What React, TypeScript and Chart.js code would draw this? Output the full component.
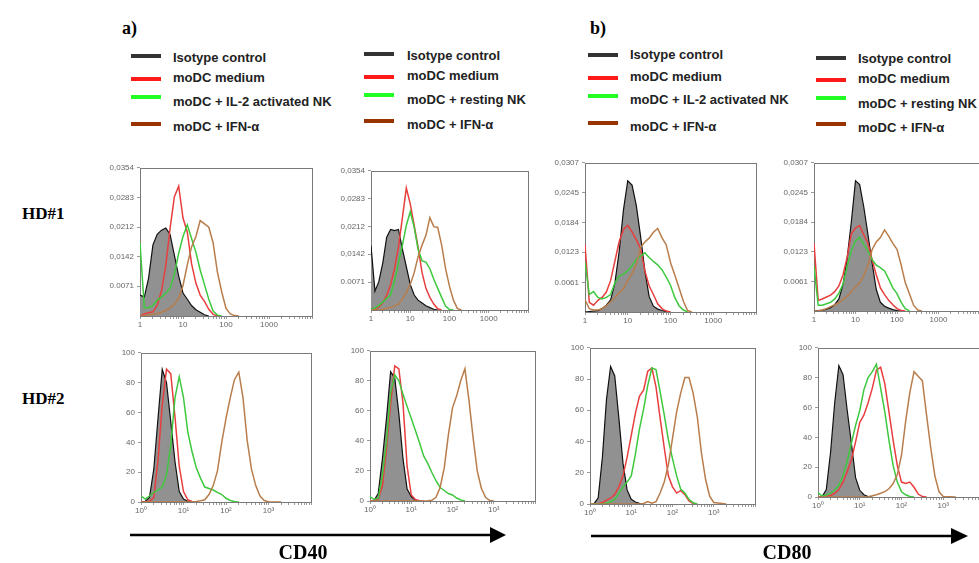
import React, { useEffect, useRef } from "react";
import { Chart, registerables } from "chart.js";
Chart.register(...registerables);

// Shared fluorescence channel grid (log spaced, typed)
const XS = [1, 1.26, 1.58, 2, 2.51, 3.16, 3.98, 5.01, 6.31, 7.94, 10, 12.6, 15.8, 20, 25.1, 31.6, 39.8, 50.1, 63.1, 79.4, 100, 126, 158, 200, 251, 316, 398, 501, 631, 794, 1000, 2000, 5000, 10000];

const X_TICKS = [1, 2, 3, 4, 5, 6, 7, 8, 9, 10, 20, 30, 40, 50, 60, 70, 80, 90, 100, 200, 300, 400, 500, 600, 700, 800, 900, 1000, 2000, 3000, 4000, 5000, 6000, 7000, 8000, 9000, 10000];
const X_MAJOR = [1, 10, 100, 1000];
const X_LABELS_HD1 = ["1", "10", "100", "1000"];
const X_LABELS_HD2 = ["10\u2070", "10\u00b9", "10\u00b2", "10\u00b3"];

const Y_TICKS_CD40 = [0.0071, 0.0142, 0.0212, 0.0283, 0.0354];
const Y_LABELS_CD40 = ["0.0071", "0,0142", "0,0212", "0,0283", "0,0354"];
const Y_TICKS_CD80 = [0.0061, 0.0123, 0.0184, 0.0245, 0.0307];
const Y_LABELS_CD80 = ["0.0061", "0,0123", "0,0184", "0,0245", "0,0307"];
const Y_TICKS_HD2 = [0, 20, 40, 60, 80, 100];
const Y_LABELS_HD2 = ["0", "20", "40", "60", "80", "100"];

const SERIES_IL2 = ["Isotype control", "moDC medium", "moDC + IL-2 activated NK", "moDC + IFN-\u03b1"];
const SERIES_REST = ["Isotype control", "moDC medium", "moDC + resting NK", "moDC + IFN-\u03b1"];

// a) CD40, HD#1, IL-2 activated NK
const A1L_ISO = [0.005, 0.0045, 0.009, 0.017, 0.0195, 0.0205, 0.021, 0.0195, 0.0145, 0.0095, 0.0055, 0.004, 0.0025, 0.0015, 0.0009, 0.0003, 0];
const A1L_MED = [0, 0.0005, 0.0008, 0.001, 0.0025, 0.006, 0.012, 0.021, 0.0285, 0.031, 0.0234, 0.02, 0.0125, 0.0078, 0.005, 0.0035, 0.0016, 0.0004, 0];
const A1L_NK = [0.0175, 0.002, 0.002, 0.0025, 0.0038, 0.0045, 0.0055, 0.0066, 0.01, 0.015, 0.019, 0.0218, 0.0185, 0.0152, 0.011, 0.0075, 0.004, 0.0012, 0.0002, 0];
const A1L_IFN = [0, 0, 0.0002, 0.0004, 0.0006, 0.0009, 0.0013, 0.002, 0.0028, 0.0042, 0.0073, 0.0122, 0.0165, 0.019, 0.0228, 0.022, 0.0212, 0.0175, 0.0105, 0.0058, 0.0018, 0.0005, 0.0001, 0];
// a) CD40, HD#1, resting NK
const A1R_ISO = [0.0164, 0.0048, 0.0072, 0.012, 0.0185, 0.0205, 0.0202, 0.0205, 0.0155, 0.011, 0.0065, 0.0038, 0.0025, 0.0018, 0.0011, 0.0006, 0.0002, 0];
const A1R_MED = [0, 0.0002, 0.0008, 0.0018, 0.0037, 0.0065, 0.0105, 0.016, 0.0235, 0.031, 0.027, 0.0215, 0.016, 0.0095, 0.0055, 0.0032, 0.0015, 0.0003, 0];
const A1R_NK = [0.0002, 0.0005, 0.0012, 0.002, 0.003, 0.0038, 0.0075, 0.012, 0.0165, 0.0215, 0.025, 0.021, 0.0155, 0.0125, 0.0122, 0.0105, 0.0078, 0.0055, 0.0032, 0.001, 0.0001, 0];
const A1R_IFN = [0, 0, 0, 0.0002, 0.0004, 0.0007, 0.001, 0.0015, 0.0027, 0.0045, 0.0065, 0.0095, 0.0135, 0.0165, 0.019, 0.0235, 0.0212, 0.021, 0.0165, 0.0105, 0.006, 0.0025, 0.0004, 0];
// b) CD80, HD#1, IL-2 activated NK
const B1L_ISO = [0, 0.0001, 0.0002, 0.0003, 0.0007, 0.0014, 0.0025, 0.006, 0.0125, 0.021, 0.027, 0.0261, 0.022, 0.0155, 0.0085, 0.0032, 0.0012, 0.0006, 0.0003, 0.0001, 0];
const B1L_MED = [0.0139, 0.002, 0.0014, 0.0024, 0.003, 0.0041, 0.0065, 0.0105, 0.0145, 0.017, 0.0178, 0.0165, 0.0149, 0.013, 0.0085, 0.0054, 0.0036, 0.0017, 0.0007, 0.0002, 0];
const B1L_NK = [0.0102, 0.0036, 0.0042, 0.003, 0.0027, 0.003, 0.0036, 0.006, 0.0074, 0.0078, 0.0085, 0.0095, 0.0108, 0.0115, 0.0122, 0.0112, 0.0104, 0.0097, 0.0087, 0.0072, 0.0055, 0.003, 0.0013, 0.0004, 0];
const B1L_IFN = [0.0025, 0.0007, 0.0004, 0.0004, 0.0006, 0.0013, 0.0021, 0.003, 0.004, 0.0048, 0.0065, 0.0079, 0.0098, 0.0133, 0.0144, 0.0152, 0.0164, 0.0172, 0.0153, 0.0138, 0.0102, 0.0076, 0.005, 0.0022, 0.0003, 0];
// b) CD80, HD#1, resting NK
const B1R_ISO = [0, 0.0001, 0.0002, 0.0004, 0.0007, 0.0013, 0.0025, 0.0055, 0.011, 0.0185, 0.027, 0.0262, 0.0216, 0.0158, 0.01, 0.0045, 0.0018, 0.001, 0.0006, 0.0003, 0.0001, 0];
const B1R_MED = [0.0141, 0.0022, 0.0025, 0.0029, 0.0033, 0.004, 0.0052, 0.0075, 0.0112, 0.016, 0.0172, 0.0177, 0.0158, 0.014, 0.0107, 0.0075, 0.0048, 0.0034, 0.0022, 0.0013, 0.0005, 0.0001, 0];
const B1R_NK = [0.0093, 0.0012, 0.0012, 0.0015, 0.0018, 0.0025, 0.0037, 0.0056, 0.0093, 0.0125, 0.0145, 0.0153, 0.0138, 0.0125, 0.0107, 0.0095, 0.009, 0.0083, 0.0066, 0.0048, 0.0036, 0.0018, 0.0005, 0];
const B1R_IFN = [0, 0, 0.0002, 0.0005, 0.0009, 0.0013, 0.0017, 0.0024, 0.0031, 0.004, 0.005, 0.0058, 0.0073, 0.0095, 0.0127, 0.0143, 0.0152, 0.0168, 0.0155, 0.014, 0.0128, 0.0095, 0.0059, 0.0035, 0.0012, 0.0002, 0];
// a) CD40, HD#2
const A2L_ISO = [0, 0.5, 3, 22, 56, 89, 80, 54, 27, 7, 2, 0.5, 0];
const A2L_MED = [0, 0, 0.5, 3, 28, 65, 89, 86, 57, 24, 7, 1.5, 0.3, 0];
const A2L_NK = [4, 2, 4, 6.5, 8, 10, 18, 38, 70, 84, 70, 47, 34, 23, 16, 10, 9, 8, 6.5, 5, 2.5, 1, 0.3, 0];
const A2L_IFN = [0, 0, 0, 0, 0, 0, 0, 0, 0, 0, 0, 0, 0, 0.3, 0.8, 1.5, 5, 11, 21, 40, 56, 70, 82, 87, 70, 41, 22, 11, 4, 1, 0.2, 0];
const A2R_ISO = [0, 0.5, 5, 28, 55, 86, 82, 58, 28, 8, 3, 0.6, 0];
const A2R_MED = [0, 0.2, 1.5, 10, 35, 65, 90, 88, 65, 23, 4, 1, 0.2, 0];
const A2R_NK = [3, 1, 2, 17, 40, 72, 84, 80, 71, 63, 55, 47, 39, 30, 25, 19, 13.5, 9, 7, 5, 4, 2, 0.7, 0];
const A2R_IFN = [0, 0, 0, 0, 0, 0, 0, 0, 0, 0, 0, 0, 0, 0, 0.2, 0.5, 2.5, 9, 22, 44, 62, 70, 80, 88, 67, 42, 20, 8.5, 2.5, 0.4, 0];
// b) CD80, HD#2
const B2L_ISO = [0, 0.2, 4, 30, 67, 88, 82, 55, 26, 9, 3, 1.3, 0.5, 0];
const B2L_MED = [0, 0, 0.2, 1, 2.5, 3.8, 6, 11, 18, 30, 44, 58, 69, 73, 85, 87, 75, 55, 36, 18, 11, 7, 8.5, 6, 2, 0.3, 0];
const B2L_NK = [0, 0, 0, 0.2, 0.6, 1.5, 3, 7, 11, 14, 18, 32, 48, 61, 76, 87, 86, 72, 57, 41, 29, 18, 9.5, 7, 3, 0.8, 0];
const B2L_IFN = [0, 0, 0, 0, 0, 0, 0, 0, 0, 0, 0, 0, 0, 0.3, 1.5, 0.5, 1.5, 7, 14, 25, 42, 59, 71, 81, 81, 71, 56, 33, 16, 5, 1, 0];
const B2R_ISO = [0, 0.3, 5, 30, 63, 88, 82, 58, 36, 13, 4.5, 1.5, 0.3, 0];
const B2R_MED = [0, 0, 0.3, 1, 2.5, 5, 10, 17, 25, 37, 50, 55, 63, 73, 85, 87, 76, 57, 38, 21, 10, 9, 10, 6.5, 2, 0.3, 0];
const B2R_NK = [3, 0.5, 1.5, 2.4, 4.5, 8, 14, 24, 36, 48, 58, 72, 80, 84, 89, 73, 57, 38, 21, 10, 3.5, 1.5, 0.3, 0];
const B2R_IFN = [0, 0, 0, 0, 0, 0, 0, 0, 0, 0, 0, 0, 0.2, 0.8, 1.5, 2.5, 3.6, 5.5, 9, 15, 28, 51, 70, 84, 81, 78, 55, 33, 14, 3.5, 0.3, 0];

// Styles
const LINE_COLORS = ["#111111", "rgb(232,62,62)", "rgb(62,200,62)", "rgb(185,125,75)"];
const ISO_FILL = "rgb(145,145,145)";
const SWATCH_COLORS = ["#333333", "#ff1a1a", "#22ff22", "#993300"];

const YW = 34;
const XH = 18;
const PT = 6;
const PR = 4;

type PanelCfg = {
  box: [number, number, number, number];
  yMax: number;
  yTicks: number[];
  yLabels: string[];
  xLabels: string[];
  names: string[];
  series: number[][];
};

const PANELS: PanelCfg[] = [
  { box: [140, 166, 312, 316], yMax: 0.0354, yTicks: Y_TICKS_CD40, yLabels: Y_LABELS_CD40, xLabels: X_LABELS_HD1, names: SERIES_IL2, series: [A1L_ISO, A1L_MED, A1L_NK, A1L_IFN] },
  { box: [371, 169, 528, 310], yMax: 0.0354, yTicks: Y_TICKS_CD40, yLabels: Y_LABELS_CD40, xLabels: X_LABELS_HD1, names: SERIES_REST, series: [A1R_ISO, A1R_MED, A1R_NK, A1R_IFN] },
  { box: [585, 161, 756, 312], yMax: 0.0307, yTicks: Y_TICKS_CD80, yLabels: Y_LABELS_CD80, xLabels: X_LABELS_HD1, names: SERIES_IL2, series: [B1L_ISO, B1L_MED, B1L_NK, B1L_IFN] },
  { box: [814, 161, 980, 311], yMax: 0.0307, yTicks: Y_TICKS_CD80, yLabels: Y_LABELS_CD80, xLabels: X_LABELS_HD1, names: SERIES_REST, series: [B1R_ISO, B1R_MED, B1R_NK, B1R_IFN] },
  { box: [141, 351, 311, 502], yMax: 100, yTicks: Y_TICKS_HD2, yLabels: Y_LABELS_HD2, xLabels: X_LABELS_HD2, names: SERIES_IL2, series: [A2L_ISO, A2L_MED, A2L_NK, A2L_IFN] },
  { box: [370, 349, 535, 501], yMax: 100, yTicks: Y_TICKS_HD2, yLabels: Y_LABELS_HD2, xLabels: X_LABELS_HD2, names: SERIES_REST, series: [A2R_ISO, A2R_MED, A2R_NK, A2R_IFN] },
  { box: [590, 346, 755, 504], yMax: 100, yTicks: Y_TICKS_HD2, yLabels: Y_LABELS_HD2, xLabels: X_LABELS_HD2, names: SERIES_IL2, series: [B2L_ISO, B2L_MED, B2L_NK, B2L_IFN] },
  { box: [818, 346, 985, 497], yMax: 100, yTicks: Y_TICKS_HD2, yLabels: Y_LABELS_HD2, xLabels: X_LABELS_HD2, names: SERIES_REST, series: [B2R_ISO, B2R_MED, B2R_NK, B2R_IFN] },
];

const framePlugin = {
  id: "frame",
  beforeDatasetsDraw(chart: any) {
    const { ctx, chartArea: a } = chart;
    ctx.save();
    ctx.strokeStyle = "#7a7a7a";
    ctx.lineWidth = 1;
    ctx.strokeRect(Math.round(a.left) + 0.5, Math.round(a.top) + 0.5, Math.round(a.right - a.left), Math.round(a.bottom - a.top));
    ctx.restore();
  },
};

function Panel({ cfg }: { cfg: PanelCfg }) {
  const ref = useRef<HTMLCanvasElement>(null);
  const [l, t, r, b] = cfg.box;
  const W = r - l + YW + PR;
  const H = b - t + PT + XH;
  useEffect(() => {
    const chart = new Chart(ref.current as HTMLCanvasElement, {
      type: "line",
      data: {
        datasets: cfg.series.map((ys, k) => ({
          label: cfg.names[k],
          data: ys.map((y, i) => ({ x: XS[i], y })),
          borderColor: LINE_COLORS[k],
          backgroundColor: k === 0 ? ISO_FILL : "rgba(0,0,0,0)",
          fill: k === 0 ? "origin" : false,
          borderWidth: k === 0 ? 1.2 : 1.5,
          pointRadius: 0,
          tension: 0,
          order: k === 0 ? 10 : 4 - k,
        })),
      },
      options: {
        animation: false,
        responsive: false,
        events: [],
        layout: { padding: { top: PT, right: PR, left: 0, bottom: 0 } },
        plugins: { legend: { display: false }, tooltip: { enabled: false } },
        scales: {
          x: {
            type: "logarithmic",
            min: 1,
            max: 10000,
            afterBuildTicks: (s: any) => {
              s.ticks = X_TICKS.map((v) => ({ value: v }));
            },
            afterFit: (s: any) => {
              s.height = XH;
            },
            ticks: {
              autoSkip: false,
              maxRotation: 0,
              padding: 1,
              color: "#666",
              font: { size: 8, family: "Liberation Sans" },
              callback: (v: any) => {
                const j = X_MAJOR.indexOf(Number(v));
                return j >= 0 ? cfg.xLabels[j] : "";
              },
            },
            grid: { drawOnChartArea: false, drawTicks: true, tickLength: 3, color: "#999" },
            border: { display: false },
          },
          y: {
            type: "linear",
            min: 0,
            max: cfg.yMax,
            afterBuildTicks: (s: any) => {
              s.ticks = cfg.yTicks.map((v) => ({ value: v }));
            },
            afterFit: (s: any) => {
              s.width = YW;
            },
            ticks: {
              padding: 3,
              color: "#666",
              font: { size: 8, family: "Liberation Sans" },
              callback: (_v: any, i: number) => cfg.yLabels[i],
            },
            grid: { drawOnChartArea: false, drawTicks: true, tickLength: 3, color: "#999" },
            border: { display: false },
          },
        },
      } as any,
      plugins: [framePlugin],
    });
    return () => chart.destroy();
  }, []);
  return (
    <canvas
      ref={ref}
      width={W}
      height={H}
      style={{ position: "absolute", left: l - YW, top: t - PT, width: W, height: H }}
    />
  );
}

type LegendCfg = { sx: number; tx: number; sy: number[]; ty: number[]; names: string[] };
const LEGENDS: LegendCfg[] = [
  { sx: 131, tx: 173, sy: [56, 79, 97, 124], ty: [57, 77, 101, 126], names: SERIES_IL2 },
  { sx: 364, tx: 407, sy: [54, 77, 95, 121], ty: [55, 75, 99, 124], names: SERIES_REST },
  { sx: 588, tx: 630, sy: [55, 78, 96, 123], ty: [54, 76, 99, 126], names: SERIES_IL2 },
  { sx: 816, tx: 858, sy: [58, 80, 98, 124], ty: [58, 78, 103, 127], names: SERIES_REST },
];

const abs = (left: number, top: number, extra: React.CSSProperties = {}): React.CSSProperties => ({
  position: "absolute",
  left,
  top,
  whiteSpace: "nowrap",
  lineHeight: 1,
  ...extra,
});

export default function App() {
  const serif = "'Liberation Serif', 'Times New Roman', serif";
  const sans = "'Liberation Sans', Arial, sans-serif";
  return (
    <div style={{ position: "fixed", left: 0, top: 0, width: 979, height: 563, overflow: "hidden", background: "#fff" }}>
      <div style={abs(122, 18, { font: `bold 18px ${serif}`, color: "#000" })}>a)</div>
      <div style={abs(590, 18, { font: `bold 18px ${serif}`, color: "#000" })}>b)</div>
      {LEGENDS.map((lg, li) => (
        <React.Fragment key={li}>
          {lg.names.map((n, k) => (
            <React.Fragment key={k}>
              <div style={abs(lg.sx, lg.sy[k] - 2, { width: 30, height: 4, background: SWATCH_COLORS[k] })} />
              <div style={abs(lg.tx, lg.ty[k] - 7, { font: `bold 13px ${sans}`, color: "#222" })}>{n}</div>
            </React.Fragment>
          ))}
        </React.Fragment>
      ))}
      <div style={abs(22, 204, { font: `bold 17px ${serif}`, color: "#000" })}>HD#1</div>
      <div style={abs(22, 389, { font: `bold 17px ${serif}`, color: "#000" })}>HD#2</div>
      {PANELS.map((p, i) => (
        <Panel key={i} cfg={p} />
      ))}
      <svg width={979} height={563} style={{ position: "absolute", left: 0, top: 0 }}>
        <line x1={130} y1={535} x2={492} y2={535} stroke="#000" strokeWidth={2.5} />
        <polygon points="490,527 506,535 490,543" fill="#000" />
        <line x1={591} y1={536} x2={953} y2={536} stroke="#000" strokeWidth={2.5} />
        <polygon points="951,528 968,536 951,544" fill="#000" />
      </svg>
      <div style={abs(253, 541, { width: 100, textAlign: "center", font: `bold 20px ${serif}`, color: "#000" })}>CD40</div>
      <div style={abs(737, 541, { width: 100, textAlign: "center", font: `bold 20px ${serif}`, color: "#000" })}>CD80</div>
    </div>
  );
}
